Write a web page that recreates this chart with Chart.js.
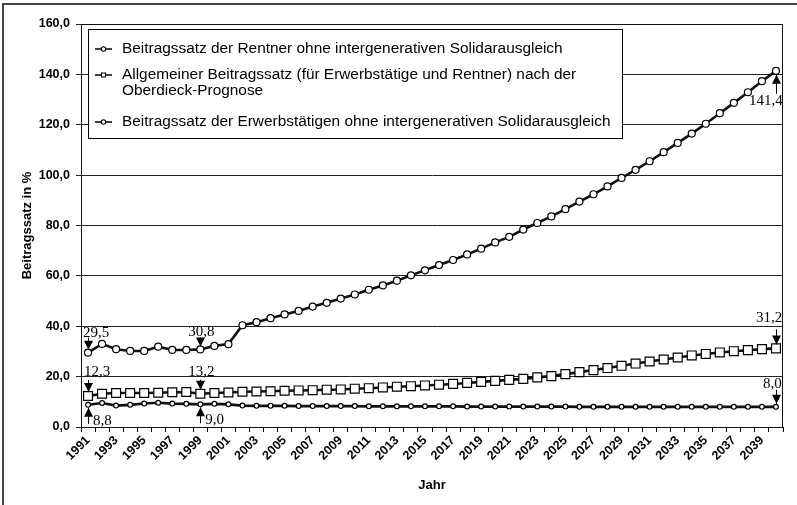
<!DOCTYPE html>
<html><head><meta charset="utf-8">
<script src="https://cdn.jsdelivr.net/npm/chart.js@4/dist/chart.umd.min.js"></script>
<style>html,body{margin:0;padding:0;background:#fff;}canvas{display:block;}</style>
</head><body>
<canvas id="c" width="797" height="505"></canvas>
<script>
const years = ["1991","1992","1993","1994","1995","1996","1997","1998","1999","2000",
  "2001","2002","2003","2004","2005","2006","2007","2008","2009","2010",
  "2011","2012","2013","2014","2015","2016","2017","2018","2019","2020",
  "2021","2022","2023","2024","2025","2026","2027","2028","2029","2030",
  "2031","2032","2033","2034","2035","2036","2037","2038","2039","2040"];
const rentner = [29.5,33.0,30.9,30.2,30.2,31.9,30.6,30.6,30.8,32.2,
  32.9,40.4,41.6,43.2,44.7,46.1,47.8,49.3,51.0,52.6,
  54.5,56.2,58.1,60.2,62.2,64.3,66.3,68.5,70.8,73.3,
  75.5,78.4,81.0,83.6,86.5,89.5,92.4,95.5,98.9,102.1,
  105.5,109.1,112.8,116.5,120.4,124.6,128.7,132.9,137.3,141.4];
const allgemein = [12.3,13.2,13.5,13.5,13.5,13.6,13.8,13.9,13.2,13.5,
  13.7,14.0,14.1,14.2,14.4,14.5,14.6,14.8,14.9,15.2,
  15.4,15.7,16.0,16.2,16.5,16.8,17.1,17.5,17.9,18.3,
  18.7,19.1,19.7,20.2,21.0,21.8,22.6,23.4,24.3,25.2,
  26.0,26.8,27.6,28.4,29.0,29.6,30.1,30.5,30.9,31.2];
const erwerb = [8.8,9.5,8.5,8.8,9.3,9.6,9.3,9.2,9.0,9.2,
  9.0,8.5,8.4,8.4,8.4,8.3,8.3,8.3,8.3,8.3,
  8.2,8.2,8.2,8.2,8.2,8.2,8.2,8.1,8.1,8.1,
  8.1,8.1,8.1,8.1,8.1,8.0,8.0,8.0,8.0,8.0,
  8.0,8.0,8.0,8.0,8.0,8.0,8.0,8.0,8.0,8.0];
const seriesNames = [
  ["Beitragssatz der Rentner ohne intergenerativen Solidarausgleich"],
  ["Allgemeiner Beitragssatz (für Erwerbstätige und Rentner) nach der","Oberdieck-Prognose"],
  ["Beitragssatz der Erwerbstätigen ohne intergenerativen Solidarausgleich"]
];
const yAxisTitle = "Beitragssatz in %";
const xAxisTitle = "Jahr";
// callouts: dataset index, point index, label
const callouts = [
  {ds:0, i:0,  text:"29,5"}, {ds:0, i:8,  text:"30,8"}, {ds:0, i:49, text:"141,4"},
  {ds:1, i:0,  text:"12,3"}, {ds:1, i:8,  text:"13,2"}, {ds:1, i:49, text:"31,2"},
  {ds:2, i:0,  text:"8,8"},  {ds:2, i:8,  text:"9,0"},  {ds:2, i:49, text:"8,0"}
];
// placement styles for callouts (dir, text offset, arrow extent)
const calloutStyle = {
  "0-0":  {dir:"down", dx:-5,  dy:-20, a0:-15, a1:-3},
  "0-8":  {dir:"down", dx:-12, dy:-17, a0:-12, a1:-3},
  "0-49": {dir:"up",   dx:-27, dy:30,  a0:23,  a1:4},
  "1-0":  {dir:"down", dx:-4,  dy:-24, a0:-16, a1:-4},
  "1-8":  {dir:"down", dx:-12, dy:-22, a0:-14, a1:-4},
  "1-49": {dir:"down", dx:-20, dy:-30, a0:-19, a1:-4},
  "2-0":  {dir:"up",   dx:5,   dy:16,  a0:19,  a1:3},
  "2-8":  {dir:"up",   dx:5,   dy:16,  a0:19,  a1:3},
  "2-49": {dir:"down", dx:-13, dy:-23, a0:-17, a1:-3}
};

const SANS = "'Liberation Sans', Arial, Helvetica, sans-serif";
const SERIF = "'Liberation Serif', 'Times New Roman', serif";
Chart.defaults.font.family = SANS;
Chart.defaults.color = '#000';

const pointStyles = ['circle','rect','circle'];
const pointRadii = [3.5, 6.3, 2.4];

const framePlugin = {
  id:'frame',
  beforeDraw(chart){
    const c = chart.ctx;
    c.save();
    c.fillStyle = '#fff';
    c.fillRect(0,0,chart.width,chart.height);
    c.strokeStyle = '#444'; c.lineWidth = 2;
    c.beginPath(); c.moveTo(3,505); c.lineTo(3,4); c.lineTo(797,4); c.stroke();
    c.restore();
  },
  afterDraw(chart){
    const a = chart.chartArea, c = chart.ctx;
    c.save(); c.strokeStyle = '#111'; c.lineWidth = 1;
    c.strokeRect(Math.round(a.left)+0.5, Math.round(a.top)+0.5, Math.round(a.right-a.left)-1, Math.round(a.bottom-a.top));
    c.restore();
  }
};

function drawMarker(c, style, x, y, r){
  c.beginPath();
  if(style==='rect'){ const s=r*Math.SQRT1_2; c.rect(x-s,y-s,2*s,2*s); }
  else c.arc(x,y,r,0,Math.PI*2);
  c.fillStyle='#fff'; c.fill(); c.lineWidth=1.1; c.strokeStyle='#000'; c.stroke();
}

const legendPlugin = {
  id:'customLegend',
  afterDraw(chart){
    const c = chart.ctx;
    c.save();
    const bx=88.5, by=29.5, bw=534, bh=109;
    c.fillStyle='#fff'; c.fillRect(bx,by,bw,bh);
    c.strokeStyle='#000'; c.lineWidth=1; c.strokeRect(bx,by,bw,bh);
    const rows=[49,75,122];
    c.font = '15.4px '+SANS; c.fillStyle='#000'; c.textBaseline='middle'; c.textAlign='left';
    seriesNames.forEach((lines,k)=>{
      const y=rows[k];
      c.strokeStyle='#000'; c.lineWidth=1.5;
      c.beginPath(); c.moveTo(95,y); c.lineTo(112,y); c.stroke();
      drawMarker(c, pointStyles[k], 103.5, y, k===1?2.8:2.2);
      c.fillStyle='#000';
      lines.forEach((t,j)=>c.fillText(t,122,y+j*15.5));
    });
    c.restore();
  }
};

const calloutPlugin = {
  id:'callouts',
  afterDatasetsDraw(chart){
    const c = chart.ctx, xs = chart.scales.x, ys = chart.scales.y;
    const data = chart.data.datasets;
    c.save();
    c.font = '15px '+SERIF; c.textBaseline='middle'; c.textAlign='left';
    callouts.forEach(co=>{
      const st = calloutStyle[co.ds+'-'+co.i];
      const px = xs.getPixelForValue(co.i), py = ys.getPixelForValue(data[co.ds].data[co.i]);
      const x = Math.round(px)+0.5;
      const tail = py+st.a0, tip = py+st.a1;
      c.strokeStyle='#000'; c.fillStyle='#000'; c.lineWidth=1;
      c.beginPath(); c.moveTo(x,tail); c.lineTo(x,tip); c.stroke();
      const h = 9, w = 4.5, sgn = st.dir==='down'?1:-1;
      c.beginPath(); c.moveTo(x,tip); c.lineTo(x-w,tip-sgn*h); c.lineTo(x+w,tip-sgn*h); c.closePath(); c.fill();
      c.fillText(co.text, px+st.dx, py+st.dy);
    });
    c.restore();
  }
};

const seriesData = [rentner, allgemein, erwerb];
new Chart(document.getElementById('c'), {
  type:'line',
  data:{
    labels: years,
    datasets: seriesData.map((d,k)=>({
      label: seriesNames[k].join(' '),
      data: d,
      borderColor:'#111', borderWidth:2.6, tension:0,
      pointStyle: pointStyles[k], pointRadius: pointRadii[k],
      pointBackgroundColor:'#fff', pointBorderColor:'#000', pointBorderWidth:1.2,
      fill:false
    }))
  },
  options:{
    responsive:false, animation:false, devicePixelRatio:1,
    layout:{padding:{left:0, top:24, right:14, bottom:0}},
    plugins:{legend:{display:false}, tooltip:{enabled:false}},
    scales:{
      x:{
        type:'category', offset:true,
        grid:{offset:true, drawOnChartArea:false, drawTicks:true, tickLength:5, color:'#000'},
        border:{color:'#000', width:1},
        ticks:{autoSkip:false, minRotation:45, maxRotation:45, padding:1, color:'#000',
          font:{size:12.5, weight:'bold', family:SANS},
          callback(v,i){ return i%2===0 ? this.getLabelForValue(v) : ''; }},
        title:{display:true, text:xAxisTitle, color:'#000', font:{size:13, weight:'bold', family:SANS}, padding:{top:0,bottom:12}},
        afterFit(s){ s.height = 78; }
      },
      y:{
        min:0, max:160,
        grid:{color:'#222', lineWidth:1, drawTicks:true, tickLength:5},
        border:{color:'#000', width:1},
        ticks:{stepSize:20, padding:6, color:'#000', font:{size:12.5, weight:'bold', family:SANS},
          callback:v=>v.toFixed(1).replace('.',',')},
        title:{display:true, text:yAxisTitle, color:'#000', font:{size:13, weight:'bold', family:SANS}, padding:{top:20,bottom:0}},
        afterFit(s){ s.width = 81; }
      }
    }
  },
  plugins:[framePlugin, legendPlugin, calloutPlugin]
});
</script>
</body></html>
